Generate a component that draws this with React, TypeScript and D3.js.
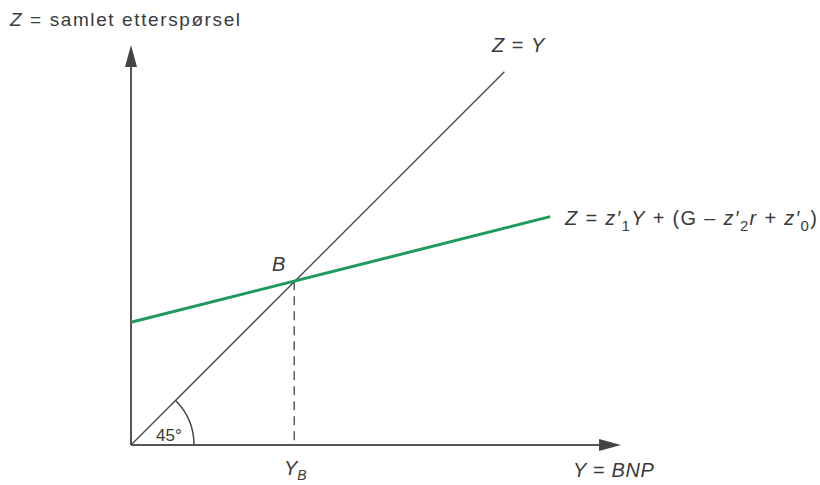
import React from "react";
import * as d3 from "d3";

const identityLine: [number, number][] = [[0, 0], [9.22, 9.22]];
const demandLine: [number, number][] = [[0, 3.03], [10.35, 5.64]];
const equilibriumY = 4.03;
const xAxisMax = 12.1;
const yAxisMax = 9.88;

const W = 820;
const H = 485;

export default function App() {
  const x = d3.scaleLinear().domain([0, 12]).range([131, 617]);
  const y = d3.scaleLinear().domain([0, 9.88]).range([445, 45]);
  const line = d3.line<[number, number]>().x(d => x(d[0])).y(d => y(d[1]));
  const eqY = demandLine[0][1] + (demandLine[1][1] - demandLine[0][1]) / (demandLine[1][0] - demandLine[0][0]) * equilibriumY;
  const arcPath = d3.path();
  arcPath.arc(x(0), y(0), 63, -Math.PI / 4, 0);
  const font = "'Liberation Sans', Arial, sans-serif";
  const txt = "#3a3a3a";
  return (
    <svg width={W} height={H} style={{ position: "absolute", left: 0, top: 0, background: "#fff" }} fontFamily={font}>
      <rect width={W} height={H} fill="#fff" />
      {/* axes */}
      <line x1={x(0)} y1={y(0)} x2={x(xAxisMax) - 20} y2={y(0)} stroke="#555" strokeWidth={2} />
      <path d={`M${x(xAxisMax)},${y(0)} L${x(xAxisMax) - 22},${y(0) - 6} L${x(xAxisMax) - 22},${y(0) + 6} Z`} fill="#444" />
      <line x1={x(0)} y1={y(0)} x2={x(0)} y2={y(yAxisMax) + 18} stroke="#555" strokeWidth={2} />
      <path d={`M${x(0)},${y(yAxisMax)} L${x(0) - 6},${y(yAxisMax) + 22} L${x(0) + 6},${y(yAxisMax) + 22} Z`} fill="#444" />
      {/* 45 line */}
      <path d={line(identityLine) || ""} stroke="#444" strokeWidth={1.3} fill="none" />
      {/* angle arc */}
      <path d={arcPath.toString()} stroke="#444" strokeWidth={1.5} fill="none" />
      <text x={156} y={441} fontSize={17} fill={txt}>45°</text>
      {/* dashed */}
      <line x1={x(equilibriumY)} y1={y(eqY)} x2={x(equilibriumY)} y2={y(0)} stroke="#444" strokeWidth={1.3} strokeDasharray="9,6" />
      {/* demand */}
      <path d={line(demandLine) || ""} stroke="#1f9a5c" strokeWidth={3} fill="none" />
      {/* labels */}
      <text x={10} y={26} fontSize={19} letterSpacing={1.6} fill={txt}><tspan fontStyle="italic">Z</tspan> = samlet etterspørsel</text>
      <text x={492} y={52} fontSize={20} letterSpacing={1} fill={txt}><tspan fontStyle="italic">Z</tspan> = <tspan fontStyle="italic">Y</tspan></text>
      <text x={565} y={225} fontSize={20} letterSpacing={1.3} fill={txt}>
        <tspan fontStyle="italic">Z</tspan> = <tspan fontStyle="italic">z′</tspan><tspan fontSize={15} dy={6}>1</tspan><tspan dy={-6} fontStyle="italic">Y</tspan> + (G – <tspan fontStyle="italic">z′</tspan><tspan fontSize={15} dy={6}>2</tspan><tspan dy={-6} fontStyle="italic">r</tspan> + <tspan fontStyle="italic">z′</tspan><tspan fontSize={15} dy={6}>0</tspan><tspan dy={-6}>)</tspan>
      </text>
      <text x={272} y={271} fontSize={20} fontStyle="italic" fill={txt}>B</text>
      <text x={284} y={475} fontSize={20} fontStyle="italic" fill={txt}>Y<tspan fontSize={14} dy={5}>B</tspan></text>
      <text x={573} y={477} fontSize={20} letterSpacing={0.6} fill={txt}><tspan fontStyle="italic">Y</tspan> = <tspan fontStyle="italic">BNP</tspan></text>
    </svg>
  );
}
